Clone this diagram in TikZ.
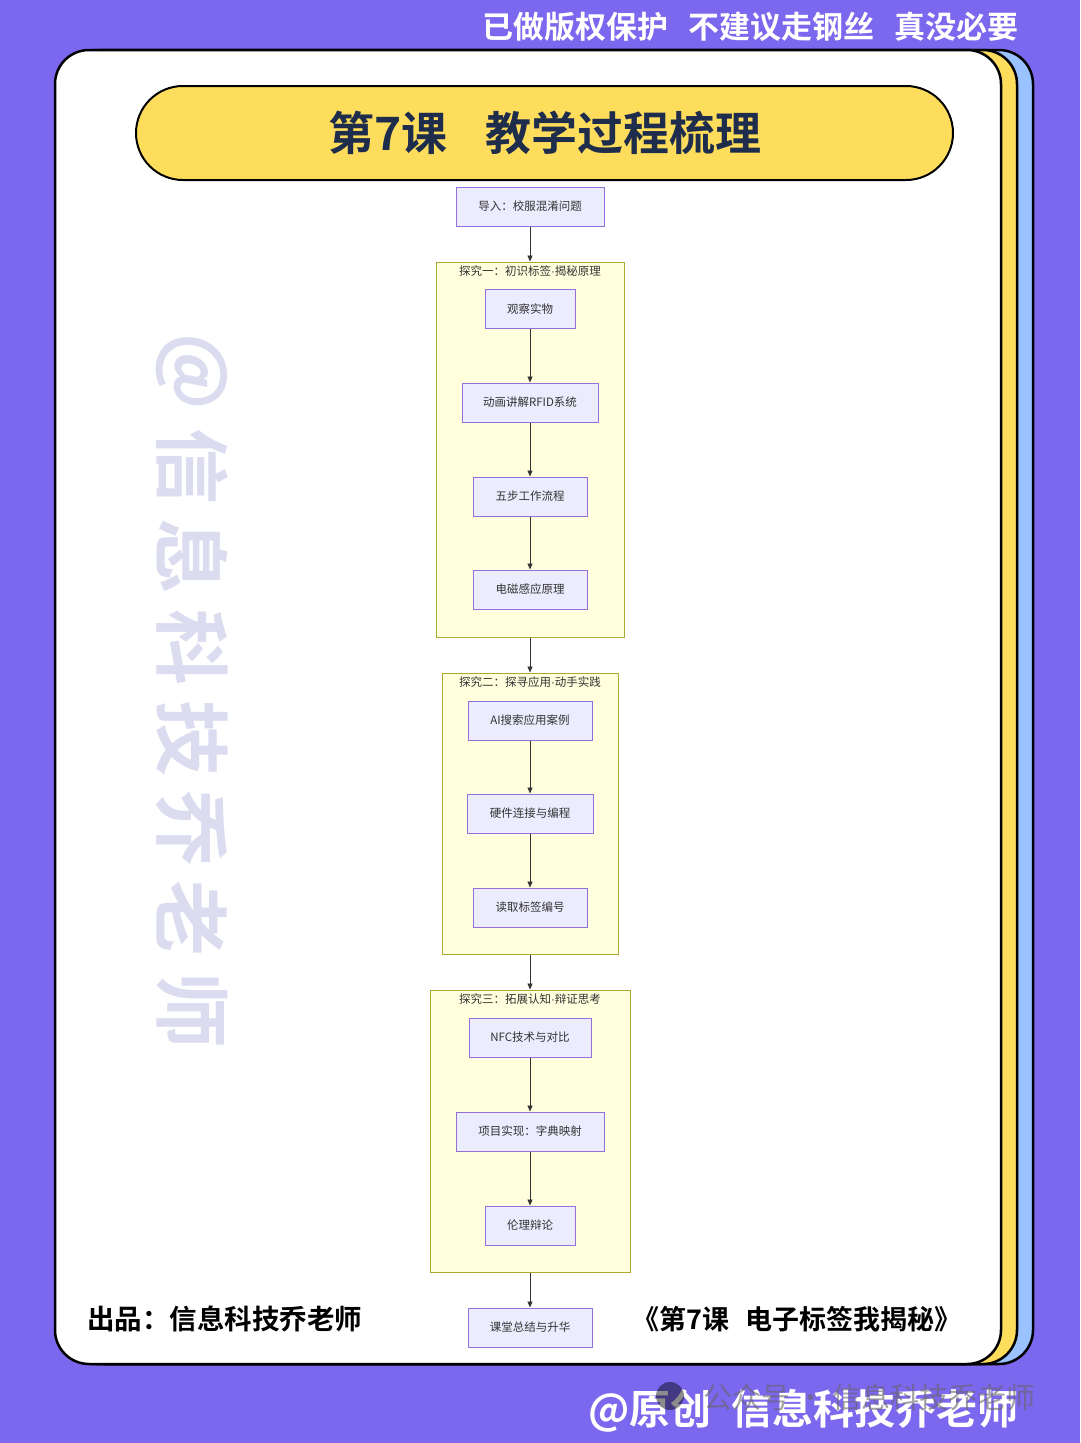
\documentclass[tikz,border=0pt]{standalone}
\usepackage{fontspec}
\setmainfont{Noto Sans CJK SC}[BoldFont={* Bold}]
\newfontfamily\latinf{Liberation Sans}
\usetikzlibrary{arrows.meta}
\definecolor{bgpurple}{HTML}{7B68EE}
\definecolor{cardyellow}{HTML}{FFDD5C}
\definecolor{cardblue}{HTML}{99C2FF}
\definecolor{navy}{HTML}{1F2D4D}
\definecolor{nodefill}{HTML}{ECECFF}
\definecolor{nodestroke}{HTML}{9370DB}
\definecolor{clfill}{HTML}{FFFFDE}
\definecolor{clstroke}{HTML}{AAAA33}
\definecolor{edgecol}{HTML}{333333}
\definecolor{wmark}{HTML}{DCDCF0}
\newcommand{\mydot}{{\latinf ·}}
\tikzset{
  fnode/.style={draw=nodestroke, fill=nodefill, line width=1pt, minimum height=39pt,
    inner sep=0pt, text=edgecol, font=\fontsize{11.5}{13}\selectfont},
  cluster/.style={draw=clstroke, fill=clfill, line width=1pt, inner sep=0pt},
  cllabel/.style={text=edgecol, font=\fontsize{11.5}{13}\selectfont, inner sep=0pt},
  edge/.style={draw=edgecol, line width=0.9pt, -{Triangle[length=6pt,width=5pt]}},
  card/.style={draw=black, line width=2.5pt, rounded corners=34pt},
  wm/.style={text=wmark, font=\fontsize{76}{80}\selectfont\bfseries, rotate=-90, inner sep=0pt}
}
\begin{document}
\begin{tikzpicture}[x=1pt,y=-1pt]
\useasboundingbox (0,0) rectangle (1080,1443);
\fill[bgpurple] (0,0) rectangle (1080,1443);
% top text
\node[text=white, font=\fontsize{31}{33}\selectfont\bfseries, anchor=east, inner sep=0pt] (toptxt) at (1019,27) {已做版权保护\hspace{20pt}不建议走钢丝\hspace{20pt}真没必要};
% stacked cards
\draw[card, fill=cardblue] (70,50) rectangle (1033,1364);
\draw[card, fill=cardyellow] (62,50) rectangle (1017,1364);
\draw[card, fill=white] (55,50) rectangle (1001,1364);
% title banner
\node[draw=black, line width=2pt, fill=cardyellow, rounded corners=47pt, minimum width=817pt, minimum height=94pt, inner sep=0pt] (banner) at (544.5,133) {};
\node[text=navy, font=\fontsize{46}{48}\selectfont\bfseries, inner sep=0pt] (title) at (545,133) {第7课\hspace{38pt}教学过程梳理};
% watermark vertical
\foreach \ch/\yy in {@/372, 信/466, 息/556, 科/647, 技/738, 乔/828, 老/918, 师/1010}{
  \node[wm] at (192,\yy) {\ch};
}
% clusters
\node[cluster, minimum width=188pt, minimum height=375pt] (c1) at (530,449.5) {};
\node[cluster, minimum width=176pt, minimum height=281pt] (c2) at (530,813.5) {};
\node[cluster, minimum width=200pt, minimum height=282pt] (c3) at (530,1131) {};
\node[cllabel] (l1) at (530,271) {探究一：初识标签\mydot 揭秘原理};
\node[cllabel] (l2) at (530,682) {探究二：探寻应用\mydot 动手实践};
\node[cllabel] (l3) at (530,999) {探究三：拓展认知\mydot 辩证思考};
% nodes
\node[fnode, minimum width=148pt] (n0) at (530,206.5) {导入：校服混淆问题};
\node[fnode, minimum width=90pt] (a1) at (530,309) {观察实物};
\node[fnode, minimum width=136pt] (a2) at (530,402.5) {动画讲解RFID系统};
\node[fnode, minimum width=114pt] (a3) at (530,496.5) {五步工作流程};
\node[fnode, minimum width=114pt] (a4) at (530,589.5) {电磁感应原理};
\node[fnode, minimum width=124pt] (b1) at (530,720.5) {AI搜索应用案例};
\node[fnode, minimum width=126pt] (b2) at (530,813.5) {硬件连接与编程};
\node[fnode, minimum width=114pt] (b3) at (530,907.5) {读取标签编号};
\node[fnode, minimum width=122pt] (d1) at (530,1037.5) {NFC技术与对比};
\node[fnode, minimum width=148pt] (d2) at (530,1131.5) {项目实现：字典映射};
\node[fnode, minimum width=90pt] (d3) at (530,1225.5) {伦理辩论};
\node[fnode, minimum width=124pt] (e1) at (530,1327.5) {课堂总结与升华};
% edges
\draw[edge] (n0) -- (c1.north);
\draw[edge] (a1) -- (a2);
\draw[edge] (a2) -- (a3);
\draw[edge] (a3) -- (a4);
\draw[edge] (c1.south) -- (c2.north);
\draw[edge] (b1) -- (b2);
\draw[edge] (b2) -- (b3);
\draw[edge] (c2.south) -- (c3.north);
\draw[edge] (d1) -- (d2);
\draw[edge] (d2) -- (d3);
\draw[edge] (c3.south) -- (e1);
% footer
\node[text=black, font=\fontsize{27.5}{30}\selectfont\bfseries, anchor=west, inner sep=0pt] (foot1) at (87,1319) {出品：信息科技乔老师};
\node[text=black, font=\fontsize{27}{30}\selectfont\bfseries, anchor=east, inner sep=0pt] (foot2) at (962,1319) {《第7课\hspace{0.6em}电子标签我揭秘》};
% bottom watermarks
\node[text=white, font=\fontsize{41}{44}\selectfont\bfseries, anchor=east, inner sep=0pt] (wm2) at (1019,1411) {@原创\hspace{0.5em}信息科技乔老师};
\fill[black, opacity=0.45] (670,1396) circle (14pt);
\node[text=black!60, opacity=0.6, font=\fontsize{29}{32}\selectfont, anchor=west, inner sep=0pt] (wm3) at (703,1397) {公众号 · 信息科技乔老师};
\end{tikzpicture}
\end{document}
